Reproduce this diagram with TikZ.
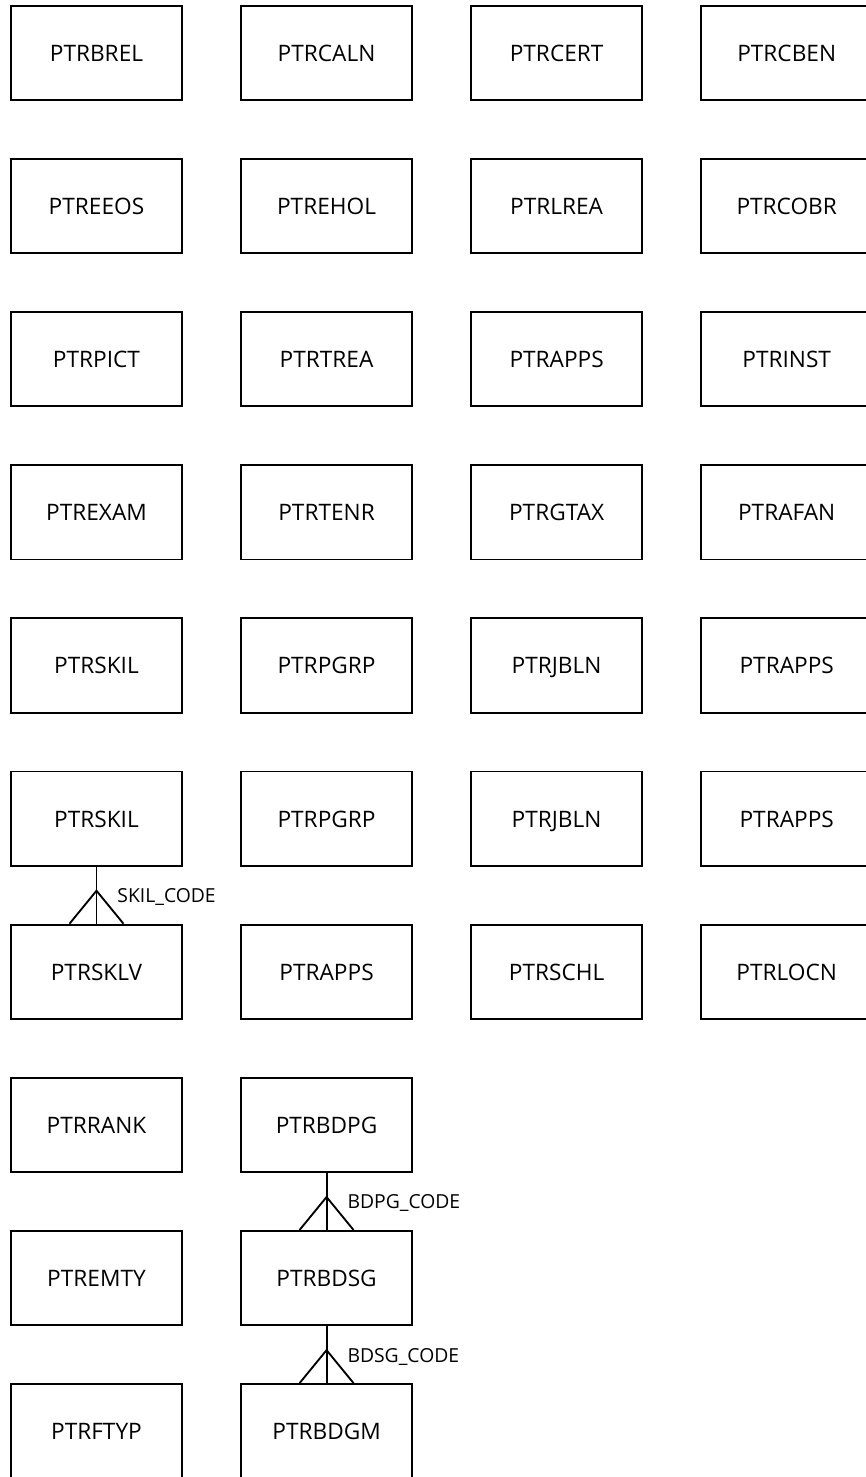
\documentclass[tikz,border=0pt]{standalone}
\usepackage{fontspec}
\setmainfont{Open Sans}
\usetikzlibrary{positioning}

\begin{document}
\begin{tikzpicture}[
  x=0.75pt, y=0.75pt,
  tbl/.style={draw, line width=1.4pt, minimum width=128.4pt, minimum height=70.7pt,
    inner sep=2pt, text height=12.5pt, text depth=0pt, font=\fontsize{17}{20}\selectfont},
  rel/.style={line width=1.4pt},
  key/.style={anchor=west, inner sep=0pt, font=\fontsize{14.5}{17}\selectfont},
  node distance=42.75pt
]
\useasboundingbox (0,0) rectangle (865,-1477);
% row 1
\node[tbl] (brel) at (96.5,-53) {PTRBREL};
\node[tbl, right=of brel] (caln) {PTRCALN};
\node[tbl, right=of caln] (cert) {PTRCERT};
\node[tbl, right=of cert] (cben) {PTRCBEN};
% row 2
\node[tbl, below=of brel] (eeos) {PTREEOS};
\node[tbl, right=of eeos] (ehol) {PTREHOL};
\node[tbl, right=of ehol] (lrea) {PTRLREA};
\node[tbl, right=of lrea] (cobr) {PTRCOBR};
% row 3
\node[tbl, below=of eeos] (pict) {PTRPICT};
\node[tbl, right=of pict] (trea) {PTRTREA};
\node[tbl, right=of trea] (appsA) {PTRAPPS};
\node[tbl, right=of appsA] (inst) {PTRINST};
% row 4
\node[tbl, below=of pict] (exam) {PTREXAM};
\node[tbl, right=of exam] (tenr) {PTRTENR};
\node[tbl, right=of tenr] (gtax) {PTRGTAX};
\node[tbl, right=of gtax] (afan) {PTRAFAN};
% row 5
\node[tbl, below=of exam] (skilA) {PTRSKIL};
\node[tbl, right=of skilA] (pgrpA) {PTRPGRP};
\node[tbl, right=of pgrpA] (jblnA) {PTRJBLN};
\node[tbl, right=of jblnA] (appsB) {PTRAPPS};
% row 6
\node[tbl, below=of skilA] (skilB) {PTRSKIL};
\node[tbl, right=of skilB] (pgrpB) {PTRPGRP};
\node[tbl, right=of pgrpB] (jblnB) {PTRJBLN};
\node[tbl, right=of jblnB] (appsC) {PTRAPPS};
% row 7
\node[tbl, below=of skilB] (sklv) {PTRSKLV};
\node[tbl, right=of sklv] (appsD) {PTRAPPS};
\node[tbl, right=of appsD] (schl) {PTRSCHL};
\node[tbl, right=of schl] (locn) {PTRLOCN};
% rows 8-10
\node[tbl, below=of sklv] (rank) {PTRRANK};
\node[tbl, right=of rank] (bdpg) {PTRBDPG};
\node[tbl, below=of rank] (emty) {PTREMTY};
\node[tbl, right=of emty] (bdsg) {PTRBDSG};
\node[tbl, below=of emty] (ftyp) {PTRFTYP};
\node[tbl, right=of ftyp] (bdgm) {PTRBDGM};

% one-to-many links
\draw[rel] (skilB) -- (sklv);
\draw[rel] ([xshift=-20.25pt]sklv.north) -- ([yshift=24.75pt]sklv.north) -- ([xshift=20.25pt]sklv.north);
\node[key] (skilkey) at ([xshift=15.5pt,yshift=20pt]sklv.north) {SKIL\_CODE};

\draw[rel] (bdpg) -- (bdsg);
\draw[rel] ([xshift=-20.25pt]bdsg.north) -- ([yshift=24.75pt]bdsg.north) -- ([xshift=20.25pt]bdsg.north);
\node[key] (bdpgkey) at ([xshift=15.5pt,yshift=20pt]bdsg.north) {BDPG\_CODE};

\draw[rel] (bdsg) -- (bdgm);
\draw[rel] ([xshift=-20.25pt]bdgm.north) -- ([yshift=24.75pt]bdgm.north) -- ([xshift=20.25pt]bdgm.north);
\node[key] (bdsgkey) at ([xshift=15.5pt,yshift=20pt]bdgm.north) {BDSG\_CODE};
\end{tikzpicture}
\end{document}
